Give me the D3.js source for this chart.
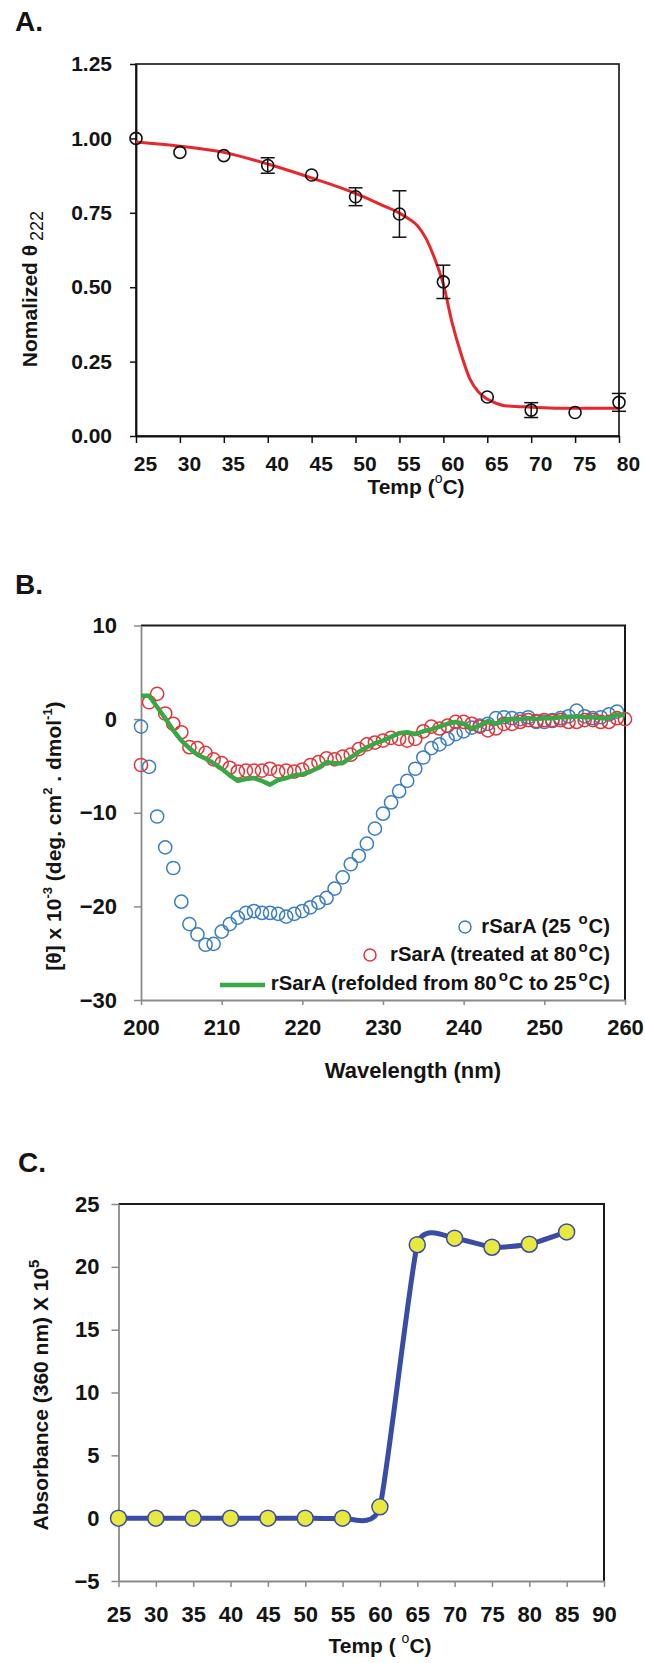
<!DOCTYPE html>
<html>
<head>
<meta charset="utf-8">
<script src="https://cdnjs.cloudflare.com/ajax/libs/d3/7.8.5/d3.min.js"></script>
<style>
    body { margin: 0; background: #fff; }
    svg text { font-family: "Liberation Sans", Arial, sans-serif; fill: #141414; }
</style>
</head>
<body>
<div class="figure-container"></div>
<script>
// Panel A - normalized theta 222 vs temperature
const tempsA = [25, 30, 35, 40, 45, 50, 55, 60, 65, 70, 75, 80]
const thetaA = [1.00, 0.953, 0.942, 0.909, 0.877, 0.804, 0.746, 0.518, 0.131, 0.087, 0.079, 0.113]
const errA = [0, 0, 0, 0.026, 0, 0.030, 0.078, 0.056, 0, 0.025, 0, 0.030]
const fitTempA = [25, 30, 35, 40, 45, 50, 53, 55, 56, 57, 58, 59, 60, 61, 62, 63, 64, 65, 66, 67, 70, 75, 80]
const fitValA = [0.988, 0.974, 0.953, 0.914, 0.867, 0.815, 0.776, 0.749, 0.731, 0.708, 0.665, 0.597, 0.510, 0.380, 0.277, 0.193, 0.148, 0.124, 0.110, 0.102, 0.097, 0.093, 0.093]
const xTicksA = [25, 30, 35, 40, 45, 50, 55, 60, 65, 70, 75, 80]
const yTicksA = [0, 0.25, 0.5, 0.75, 1, 1.25]

// Panel B - CD spectra
const wavelengths = d3.range(200, 261)
const native25 = [-0.8, -5.1, -10.4, -13.7, -15.9, -19.5, -21.9, -23.0, -24.1, -24.0,
    -22.7, -21.9, -21.2, -20.7, -20.5, -20.7, -20.7, -20.8, -21.1, -20.8,
    -20.5, -20.1, -19.6, -19.1, -18.1, -16.9, -15.5, -14.6, -13.3, -11.7,
    -10.1, -8.9, -7.7, -6.6, -5.3, -4.1, -3.1, -2.7, -2.1, -1.6,
    -1.3, -0.9, -0.7, -0.5, 0.1, 0.2, 0.1, 0.0, 0.2, -0.3,
    -0.3, -0.1, 0.1, 0.3, 0.9, 0.3, 0.1, 0.2, 0.5, 0.8]
const treated80 = [-4.9, 1.8, 2.7, 0.6, -0.5, -1.4, -3.0, -3.1, -3.6, -4.3,
    -4.7, -5.2, -5.6, -5.5, -5.5, -5.5, -5.3, -5.6, -5.5, -5.6,
    -5.4, -4.9, -4.6, -4.2, -4.3, -4.0, -3.8, -3.2, -2.7, -2.5,
    -2.3, -2.0, -2.1, -2.3, -2.1, -1.3, -0.8, -1.0, -0.7, -0.3,
    -0.3, -0.5, -0.8, -1.2, -1.0, -0.5, -0.5, -0.3, -0.1, -0.2,
    -0.1, -0.2, -0.1, -0.3, -0.3, -0.1, -0.1, -0.3, -0.3, 0.1, 0.0]
const refolded = [2.5, 2.5, 1.3, 0.1, -1.2, -2.3, -3.1, -3.8, -4.2, -4.7,
    -5.3, -6.0, -6.6, -6.4, -6.3, -6.6, -7.0, -6.5, -6.3, -6.0,
    -5.9, -5.6, -5.2, -4.6, -4.7, -4.7, -4.1, -3.5, -3.0, -2.6,
    -2.3, -1.9, -1.5, -1.4, -1.6, -1.3, -1.1, -0.8, -0.5, -0.3,
    -0.5, -1.0, -0.7, -0.2, -0.5, -0.1, 0.0, 0.0, 0.1, 0.0,
    0.1, 0.1, 0.2, 0.2, 0.3, 0.2, 0.2, 0.1, 0.1, 0.5, 0.4]
const xTicksB = [200, 210, 220, 230, 240, 250, 260]
const yTicksB = [-30, -20, -10, 0, 10]

// Panel C - turbidity
const tempsC = [25, 30, 35, 40, 45, 50, 55, 60, 65, 70, 75, 80, 85]
const absC = [0, 0, 0, 0, 0, 0, 0, 0.9, 21.76, 22.28, 21.56, 21.8, 22.78]
const xTicksC = [25, 30, 35, 40, 45, 50, 55, 60, 65, 70, 75, 80, 85, 90]
const yTicksC = [-5, 0, 5, 10, 15, 20, 25]

let figure = {
    width: 645,
    height: 1663
}

const svg = d3.select(".figure-container")
    .append('svg')
    .attr('width', figure.width)
    .attr('height', figure.height)

function styleTicks(g, color, size) {
    g.attr('font-size', null).attr('font-family', null)
    g.selectAll('text')
        .attr('font-size', size)
        .attr('font-weight', 'bold')
    g.selectAll('line').attr('stroke', color).attr('stroke-width', 1.5)
    g.select('.domain').attr('stroke', color).attr('stroke-width', 1.8)
}

function panelLetter(label, x, y) {
    svg.append('text')
        .attr('x', x)
        .attr('y', y)
        .attr('font-size', '28px')
        .attr('font-weight', 'bold')
        .text(label)
}

function drawPanelA() {
    const dims = {left: 136, right: 619, top: 64, bottom: 436}

    const xScale = d3.scaleLinear().domain([25, 80]).range([dims.left, dims.right])
    const yScale = d3.scaleLinear().domain([0, 1.25]).range([dims.bottom, dims.top])

    panelLetter('A.', 15, 31)

    // frame
    svg.append('rect')
        .attr('x', dims.left).attr('y', dims.top)
        .attr('width', dims.right - dims.left).attr('height', dims.bottom - dims.top)
        .attr('fill', 'none').attr('stroke', '#111').attr('stroke-width', 1.6)

    const xAxis = svg.append('g')
        .attr('transform', `translate(0,${dims.bottom})`)
        .call(d3.axisBottom(xScale).tickValues(xTicksA).tickSize(7).tickPadding(13).tickSizeOuter(0))
    styleTicks(xAxis, '#111', '21px')
    xAxis.selectAll('text').attr('x', 9)

    const yAxis = svg.append('g')
        .attr('transform', `translate(${dims.left},0)`)
        .call(d3.axisLeft(yScale).tickValues(yTicksA).tickFormat(d3.format('.2f')).tickSize(6).tickPadding(18).tickSizeOuter(0))
    styleTicks(yAxis, '#111', '21px')

    // titles
    const xt = svg.append('text')
        .attr('x', 416).attr('y', 494)
        .attr('text-anchor', 'middle')
        .attr('font-size', '21px').attr('font-weight', 'bold')
    xt.append('tspan').text('Temp (')
    xt.append('tspan').attr('dy', -11).attr('font-size', '14px').attr('font-weight', 'normal').text('o')
    xt.append('tspan').attr('dy', 11).text('C)')

    const yt = svg.append('text')
        .attr('transform', 'translate(37,289) rotate(-90)')
        .attr('text-anchor', 'middle')
        .attr('font-size', '21px').attr('font-weight', 'bold')
    yt.append('tspan').text('Nomalized θ')
    yt.append('tspan').attr('dx', 4).attr('dy', 6).attr('font-size', '18px').attr('font-weight', 'normal').text('222')

    // fitted curve
    const line = d3.line()
        .x((d, i) => xScale(fitTempA[i]))
        .y(d => yScale(d))
        .curve(d3.curveMonotoneX)

    svg.append('path')
        .datum(fitValA)
        .attr('d', line)
        .attr('fill', 'none')
        .attr('stroke', '#e8262b')
        .attr('stroke-width', 3)

    // error bars
    const bars = svg.append('g')
        .selectAll('g')
        .data(tempsA.map((t, i) => ({t: t, v: thetaA[i], e: errA[i]})).filter(d => d.e > 0))
        .join('g')
        .attr('stroke', '#111').attr('stroke-width', 1.5)
    bars.append('line')
        .attr('x1', d => xScale(d.t)).attr('x2', d => xScale(d.t))
        .attr('y1', d => yScale(d.v - d.e)).attr('y2', d => yScale(d.v + d.e))
    bars.append('line')
        .attr('x1', d => xScale(d.t) - 7).attr('x2', d => xScale(d.t) + 7)
        .attr('y1', d => yScale(d.v + d.e)).attr('y2', d => yScale(d.v + d.e))
    bars.append('line')
        .attr('x1', d => xScale(d.t) - 7).attr('x2', d => xScale(d.t) + 7)
        .attr('y1', d => yScale(d.v - d.e)).attr('y2', d => yScale(d.v - d.e))

    svg.append('g')
        .selectAll('circle')
        .data(tempsA)
        .join('circle')
        .attr('cx', d => xScale(d))
        .attr('cy', (d, i) => yScale(thetaA[i]))
        .attr('r', 6)
        .attr('fill', 'none')
        .attr('stroke', '#111')
        .attr('stroke-width', 1.6)
}

function drawPanelB() {
    const dims = {left: 141, right: 625, top: 625.5, bottom: 1000}

    const xScale = d3.scaleLinear().domain([200, 260]).range([dims.left, dims.right])
    const yScale = d3.scaleLinear().domain([-30, 10]).range([dims.bottom, dims.top])

    panelLetter('B.', 15, 594)

    // top and right border
    svg.append('path')
        .attr('d', `M${dims.left},${dims.top}H${dims.right}V${dims.bottom}`)
        .attr('fill', 'none').attr('stroke', '#1a1a1a').attr('stroke-width', 2)

    const xAxis = svg.append('g')
        .attr('transform', `translate(0,${dims.bottom})`)
        .call(d3.axisBottom(xScale).tickValues(xTicksB).tickSize(5).tickPadding(14).tickSizeOuter(0))
    styleTicks(xAxis, '#8a8a8a', '22px')

    const yAxis = svg.append('g')
        .attr('transform', `translate(${dims.left},0)`)
        .call(d3.axisLeft(yScale).tickValues(yTicksB).tickSize(7).tickPadding(17).tickSizeOuter(0))
    styleTicks(yAxis, '#8a8a8a', '22px')

    svg.append('text')
        .attr('x', 413).attr('y', 1078)
        .attr('text-anchor', 'middle')
        .attr('font-size', '22px').attr('font-weight', 'bold')
        .text('Wavelength (nm)')

    const yt = svg.append('text')
        .attr('transform', 'translate(61,836) rotate(-90)')
        .attr('text-anchor', 'middle')
        .attr('font-size', '21px').attr('font-weight', 'bold')
    yt.append('tspan').text('[θ] x 10')
    yt.append('tspan').attr('dy', -9).attr('font-size', '13px').text('-3')
    yt.append('tspan').attr('dy', 9).text(' (deg. cm')
    yt.append('tspan').attr('dy', -9).attr('font-size', '13px').text('2')
    yt.append('tspan').attr('dy', 9).text(' . dmol')
    yt.append('tspan').attr('dy', -9).attr('font-size', '13px').text('-1')
    yt.append('tspan').attr('dy', 9).text(')')

    // series
    const line = d3.line()
        .x((d, i) => xScale(wavelengths[i]))
        .y(d => yScale(d))

    svg.append('g')
        .selectAll('circle')
        .data(native25)
        .join('circle')
        .attr('cx', (d, i) => xScale(wavelengths[i]))
        .attr('cy', d => yScale(d))
        .attr('r', 6.6)
        .attr('fill', 'none')
        .attr('stroke', '#3a7ec4')
        .attr('stroke-width', 1.5)

    svg.append('g')
        .selectAll('circle')
        .data(treated80)
        .join('circle')
        .attr('cx', (d, i) => xScale(wavelengths[i]))
        .attr('cy', d => yScale(d))
        .attr('r', 6.6)
        .attr('fill', 'none')
        .attr('stroke', '#e2373a')
        .attr('stroke-width', 1.5)

    svg.append('path')
        .datum(refolded)
        .attr('d', line)
        .attr('fill', 'none')
        .attr('stroke', '#38a844')
        .attr('stroke-width', 4.5)
        .attr('stroke-linejoin', 'round')

    // legend
    const legend = svg.append('g')
    legend.append('circle').attr('cx', 465).attr('cy', 927).attr('r', 6)
        .attr('fill', 'none').attr('stroke', '#3a7ec4').attr('stroke-width', 1.5)
    legend.append('circle').attr('cx', 370).attr('cy', 955).attr('r', 6)
        .attr('fill', 'none').attr('stroke', '#e2373a').attr('stroke-width', 1.5)
    legend.append('line').attr('x1', 220).attr('x2', 265).attr('y1', 985).attr('y2', 985)
        .attr('stroke', '#38a844').attr('stroke-width', 4.5)

    const entries = [
        {y: 933, parts: ['rSarA (25 ', 'o', 'C)']},
        {y: 961, parts: ['rSarA (treated at 80', 'o', 'C)']},
        {y: 990, parts: ['rSarA (refolded from 80', 'o', 'C to 25', 'o', 'C)']}
    ]
    entries.forEach(e => {
        const t = legend.append('text')
            .attr('x', 610).attr('y', e.y)
            .attr('text-anchor', 'end')
            .attr('font-size', '20.3px').attr('font-weight', 'bold')
        e.parts.forEach((p, i) => {
            const sup = i % 2 === 1
            const prevSup = i > 0 && (i - 1) % 2 === 1
            t.append('tspan')
                .attr('dx', sup ? 2 : (prevSup ? 1 : 0))
                .attr('dy', sup ? -9 : (prevSup ? 9 : 0))
                .attr('font-size', sup ? '15px' : null)
                .text(p)
        })
    })
}

function drawPanelC() {
    const dims = {left: 118.5, right: 604, top: 1204, bottom: 1581}

    const xScale = d3.scaleLinear().domain([25, 90]).range([dims.left, dims.right])
    const yScale = d3.scaleLinear().domain([-5, 25]).range([dims.bottom, dims.top])

    panelLetter('C.', 18, 1172)

    svg.append('path')
        .attr('d', `M${dims.left},${dims.top}H${dims.right}V${dims.bottom}`)
        .attr('fill', 'none').attr('stroke', '#1a1a1a').attr('stroke-width', 2)

    const xAxis = svg.append('g')
        .attr('transform', `translate(0,${dims.bottom})`)
        .call(d3.axisBottom(xScale).tickValues(xTicksC).tickSize(6).tickPadding(19).tickSizeOuter(0))
    styleTicks(xAxis, '#8a8a8a', '22px')

    const yAxis = svg.append('g')
        .attr('transform', `translate(${dims.left},0)`)
        .call(d3.axisLeft(yScale).tickValues(yTicksC).tickSize(7).tickPadding(12).tickSizeOuter(0))
    styleTicks(yAxis, '#8a8a8a', '22px')

    const xt = svg.append('text')
        .attr('x', 380).attr('y', 1653)
        .attr('text-anchor', 'middle')
        .attr('font-size', '21px').attr('font-weight', 'bold')
    xt.append('tspan').text('Temp ( ')
    xt.append('tspan').attr('dy', -10).attr('font-size', '14px').attr('font-weight', 'normal').text('o')
    xt.append('tspan').attr('dy', 10).text('C)')

    const yt = svg.append('text')
        .attr('transform', 'translate(48,1395) rotate(-90)')
        .attr('text-anchor', 'middle')
        .attr('font-size', '21px').attr('font-weight', 'bold')
    yt.append('tspan').text('Absorbance (360 nm) X 10')
    yt.append('tspan').attr('dy', -9).attr('font-size', '15px').text('5')

    // smoothed line like the spreadsheet original
    const line = d3.line()
        .x((d, i) => xScale(tempsC[i]))
        .y(d => yScale(d))
        .curve(d3.curveCardinal.tension(0.5))

    svg.append('path')
        .datum(absC)
        .attr('d', line)
        .attr('fill', 'none')
        .attr('stroke', '#3a4ca6')
        .attr('stroke-width', 5)

    svg.append('g')
        .selectAll('circle')
        .data(absC)
        .join('circle')
        .attr('cx', (d, i) => xScale(tempsC[i]))
        .attr('cy', d => yScale(d))
        .attr('r', 8)
        .attr('fill', '#e9e83e')
        .attr('stroke', '#3a4ca6')
        .attr('stroke-width', 1.5)
}

drawPanelA()
drawPanelB()
drawPanelC()
</script>
</body>
</html>
